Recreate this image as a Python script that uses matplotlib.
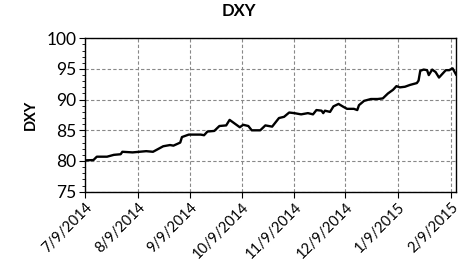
import datetime as dt
import matplotlib
matplotlib.use("Agg")
import matplotlib.pyplot as plt
import matplotlib.dates as mdates
from matplotlib.ticker import MultipleLocator, FuncFormatter

plt.rcParams['font.family'] = ['Lato', 'DejaVu Sans']

# days after 7/9/2014 and DXY level
day_offsets = [0, 5, 7, 13, 17, 21, 22, 28, 36, 40, 42, 46, 50, 52, 56, 57, 61, 68, 70,
               72, 76, 79, 83, 85, 89, 91, 93, 96, 98, 103, 106, 110, 114, 117, 120, 123,
               127, 131, 134, 136, 139, 140, 141, 144, 146, 149, 152, 154, 158, 160, 161,
               164, 168, 172, 175, 178, 181, 183, 185, 188, 191, 195, 196, 197, 199, 201,
               202, 204, 206, 208, 210, 212, 214, 216, 218]
dxy = [80.1, 80.15, 80.7, 80.7, 81.0, 81.1, 81.5, 81.4, 81.6, 81.5, 81.8, 82.4, 82.6, 82.5,
       83.0, 83.9, 84.3, 84.3, 84.2, 84.8, 84.9, 85.7, 85.8, 86.7, 85.9, 85.5, 85.9, 85.7,
       85.0, 85.0, 85.8, 85.6, 87.0, 87.2, 87.9, 87.8, 87.6, 87.8, 87.6, 88.3, 88.2, 87.8,
       88.2, 88.0, 88.9, 89.3, 88.8, 88.5, 88.5, 88.3, 89.1, 89.8, 90.1, 90.1, 90.2, 91.0,
       91.6, 92.2, 92.0, 92.1, 92.4, 92.7, 93.1, 94.7, 94.9, 94.8, 94.0, 94.9, 94.5, 93.6,
       94.2, 94.8, 94.8, 95.1, 94.1]

start = dt.date(2014, 7, 9)
dates = [start + dt.timedelta(days=d) for d in day_offsets]
tick_dates = [dt.date(2014, m, 9) for m in range(7, 13)] + [dt.date(2015, 1, 9), dt.date(2015, 2, 9)]

fig = plt.figure(figsize=(4.77, 2.64), dpi=100)
ax = fig.add_axes([0.178, 0.274, 0.778, 0.581])

ax.plot(dates, dxy, color='black', linewidth=1.7)

ax.set_xlim(start, start + dt.timedelta(days=218.5))
ax.set_ylim(75, 100)
ax.yaxis.set_major_locator(MultipleLocator(5))
ax.yaxis.set_minor_locator(MultipleLocator(1))
ax.set_xticks(mdates.date2num(tick_dates))
ax.xaxis.set_major_formatter(FuncFormatter(
    lambda v, p: "{d.month}/{d.day}/{d.year}".format(d=mdates.num2date(v))))

ax.grid(True, which='major', color='#888888', linestyle=(0, (3, 2)), linewidth=0.8)
ax.tick_params(axis='y', which='major', labelsize=12.5, length=4, direction='out', pad=2)
ax.tick_params(axis='y', which='minor', length=2)
ax.tick_params(axis='x', labelsize=10.5, length=4, pad=2)
plt.setp(ax.get_xticklabels(), rotation=45, ha='right', rotation_mode='anchor')
for s in ax.spines.values():
    s.set_linewidth(1.0)

ax.set_ylabel('DXY', fontsize=10.5, fontweight='bold', labelpad=6)
fig.suptitle('DXY', fontsize=12, fontweight='bold', y=0.99)

fig.savefig('out.png', dpi=100)
